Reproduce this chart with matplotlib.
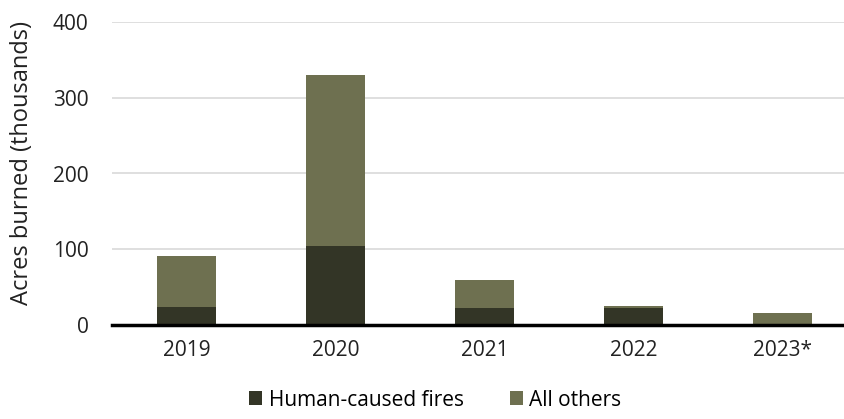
import matplotlib
matplotlib.use("Agg")
import matplotlib.pyplot as plt
import numpy as np

plt.rcParams['font.family'] = ['Open Sans', 'DejaVu Sans']

years = ["2019", "2020", "2021", "2022", "2023*"]
human = [24, 104, 22, 23, 1]
others = [67, 226, 37, 2, 15]

c_dark = "#333526"
c_olive = "#6e7050"

fig = plt.figure(figsize=(8.45, 4.19), dpi=100)
ax = fig.add_axes([112/845, (419-325)/419, 1 - 112/845, (325-22)/419])
x = np.arange(len(years))
w = 0.4
ax.bar(x, human, w, color=c_dark, label="Human-caused fires", zorder=3)
ax.bar(x, others, w, bottom=human, color=c_olive, label="All others", zorder=3)

ax.set_ylim(0, 400)
ax.set_xlim(-0.5, 4.42)
ax.set_yticks([0, 100, 200, 300, 400])
ax.set_xticks(x)
ax.set_xticklabels(years)
ax.grid(axis='y', color='#d9d9d9', linewidth=1.2, zorder=0)
for s in ['top', 'right', 'left']:
    ax.spines[s].set_visible(False)
ax.spines['bottom'].set_linewidth(2.5)
ax.spines['bottom'].set_color('black')
ax.spines['bottom'].set_zorder(4)
ax.tick_params(axis='both', length=0, labelsize=15, colors='#222222')
ax.tick_params(axis='x', pad=11)
ax.tick_params(axis='y', pad=17)
ax.set_ylabel("Acres burned (thousands)", fontsize=17, color='#222222', labelpad=0)
ax.yaxis.set_label_coords((34 - 112) / (845 - 112), (325 - 163) / (325 - 22))

fig.legend(loc='lower center', bbox_to_anchor=(0.515, -0.025), ncol=2, frameon=False,
           fontsize=15, handlelength=0.65, handleheight=0.65, handletextpad=0.3,
           columnspacing=2.2)

fig.savefig("out.png", dpi=100)
